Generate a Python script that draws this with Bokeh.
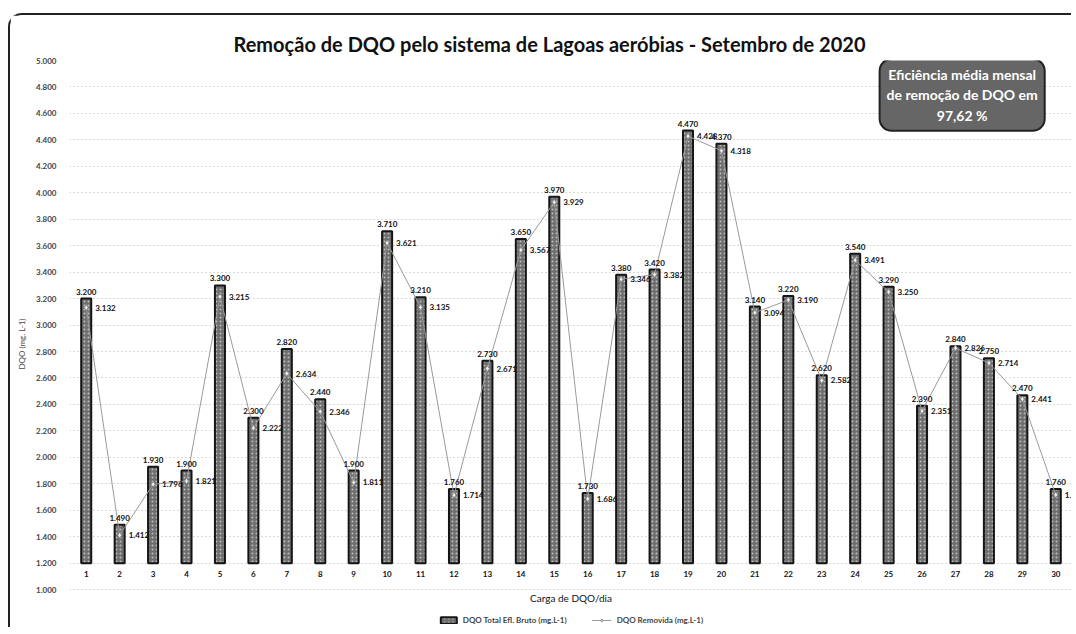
from bokeh.plotting import figure
from bokeh.models import (ColumnDataSource, FixedTicker, CustomJSTickFormatter, Label,
                          Legend, LegendItem, LabelSet)
from bokeh.core.properties import value
from bokeh.embed import file_html
from bokeh.resources import INLINE

# ---- data ----
days = list(range(1, 31))
bruto = [3200, 1490, 1930, 1900, 3300, 2300, 2820, 2440, 1900, 3710,
         3210, 1760, 2730, 3650, 3970, 1730, 3380, 3420, 4470, 4370,
         3140, 3220, 2620, 3540, 3290, 2390, 2840, 2750, 2470, 1760]
removida = [3132, 1412, 1796, 1821, 3215, 2222, 2634, 2346, 1811, 3621,
            3135, 1714, 2671, 3567, 3929, 1686, 3346, 3382, 4428, 4318,
            3094, 3190, 2582, 3491, 3250, 2351, 2826, 2714, 2441, 1717]
y_ticks = list(range(1000, 5001, 200))
bar_base = 1200
title_text = "Remoção de DQO pelo sistema de Lagoas aeróbias - Setembro de 2020"
x_title = "Carga de DQO/dia"
y_title = "DQO (mg. L-1)"
legend_bruto = "DQO Total Efl. Bruto (mg.L-1)"
legend_rem = "DQO Removida (mg.L-1)"
box_text = "Eficiência média mensal\nde remoção de DQO em\n97,62 %"

FONT = "Lato"

src = ColumnDataSource(dict(
    x=days, bruto=bruto, removida=removida,
    base=[bar_base] * len(days),
    dl=[str(d) for d in days],
    bl=[f"{v/1000:.3f}" for v in bruto],
    rl=[f"{v/1000:.3f}" for v in removida],
))

p = figure(width=1063, height=614, x_range=(0.5, 30.5), y_range=(714, 5000),
           output_backend="svg", toolbar_location=None,
           min_border_left=59, min_border_right=1, min_border_top=45, min_border_bottom=2,
           title=title_text)
p.styles = {"margin-left": "8px", "margin-top": "13px",
            "border-top": "2px solid #222", "border-left": "2px solid #222",
            "border-top-left-radius": "14px"}
p.outline_line_color = None
p.background_fill_color = "white"
p.border_fill_color = "white"

p.title.align = "left"
p.title.offset = 164
p.title.vertical_align = "top"
p.title.text_font = FONT
p.title.text_font_size = "20px"
p.title.text_font_style = "bold"
p.title.text_color = "#111111"
p.title.standoff = 5

bars = p.vbar(x="x", top="bruto", bottom="base", width=0.3, source=src,
              fill_color="#6e6e6e", line_color="#151515", line_width=2,
              hatch_pattern=".", hatch_color="#bdbdbd", hatch_scale=4, hatch_weight=1)
line = p.line(x="x", y="removida", source=src, line_color="#9a9a9a", line_width=1)
pts = p.scatter(x="x", y="removida", source=src, marker="diamond", size=6,
                fill_color="#eeeeee", line_color="#888888", line_width=1)

p.add_layout(LabelSet(x="x", y="bruto", text="bl", source=src, text_align="center",
                      text_baseline="bottom", y_offset=4, text_font=value(FONT),
                      text_font_size="8px", text_font_style="bold", text_color="#111111"))
p.add_layout(LabelSet(x="x", y="removida", text="rl", source=src, text_align="left",
                      text_baseline="middle", x_offset=9, text_font=value(FONT),
                      text_font_size="8px", text_font_style="bold", text_color="#111111"))
# category labels sitting under the bar baseline
p.add_layout(LabelSet(x="x", y="base", text="dl", source=src, text_align="center",
                      text_baseline="top", y_offset=-8, text_font=value(FONT),
                      text_font_size="8px", text_font_style="bold", text_color="#111111"))

# axes
p.yaxis.ticker = FixedTicker(ticks=y_ticks)
p.yaxis.formatter = CustomJSTickFormatter(code="return (tick/1000).toFixed(3);")
p.yaxis.axis_line_color = None
p.yaxis.major_tick_line_color = None
p.yaxis.minor_tick_line_color = None
p.yaxis.major_label_text_font = FONT
p.yaxis.major_label_text_font_size = "8px"
p.yaxis.major_label_text_font_style = "bold"
p.yaxis.major_label_standoff = 7
p.yaxis.axis_label = y_title
p.yaxis.axis_label_text_font = FONT
p.yaxis.axis_label_text_font_size = "8px"
p.yaxis.axis_label_text_font_style = "normal"
p.yaxis.axis_label_standoff = 6
p.xaxis.visible = False

# x-axis title (inside the frame, below the 1.000 level)
p.add_layout(Label(x=15.5, y=1000, y_offset=-8, text=x_title, text_align="center",
                   text_baseline="middle", text_font=FONT, text_font_size="10px",
                   text_color="#111111"))

p.xgrid.grid_line_color = None
p.ygrid.ticker = FixedTicker(ticks=y_ticks)
p.ygrid.grid_line_color = "#b5b5b5"
p.ygrid.grid_line_dash = "1 3"

# annotation box
p.add_layout(Label(x=27.2, y=4740, text=box_text, text_align="center",
                   text_baseline="middle", text_font=FONT, text_font_size="14px",
                   text_font_style="bold", text_color="white",
                   background_fill_color="#666666", border_line_color="#222222",
                   border_line_width=2, border_radius=12, padding=7))

legend = Legend(items=[LegendItem(label=legend_bruto, renderers=[bars]),
                       LegendItem(label=legend_rem, renderers=[line, pts])],
                orientation="horizontal", location="bottom_center",
                label_text_font=FONT, label_text_font_size="8px",
                label_text_font_style="bold",
                glyph_height=8, glyph_width=20, label_height=8,
                padding=2, margin=2, spacing=25, border_line_color=None,
                background_fill_alpha=0)
p.add_layout(legend)

open("out.html", "w").write(file_html(p, INLINE))
